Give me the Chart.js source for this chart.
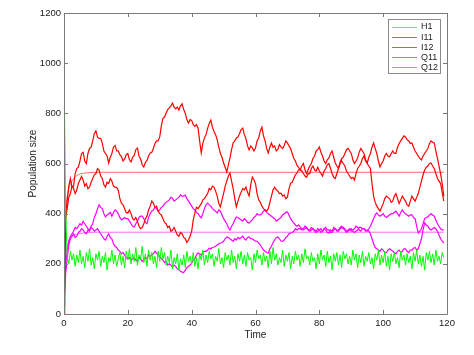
<!DOCTYPE html>
<html><head><meta charset="utf-8">
<script src="https://cdn.jsdelivr.net/npm/chart.js@4/dist/chart.umd.min.js"></script>
<style>html,body{margin:0;padding:0;background:#fff;overflow:hidden}</style>
</head><body>
<canvas id="c" width="474" height="355"></canvas>
<script>
const seriesNames = ['H1', 'I11', 'I12', 'Q11', 'Q12'];
const xTicks = [0, 20, 40, 60, 80, 100, 120];
const yTicks = [0, 200, 400, 600, 800, 1000, 1200];

// time grid: 0 .. 119 in steps of 0.5
const time = Array.from({length: 239}, (_, i) => i * 0.5);

const H1 = [
1000,420,230,200,250,215,240,190,235,205,
255,200,230,185,245,210,260,195,225,180,
240,215,250,190,230,205,245,175,225,210,
255,200,235,190,220,245,195,230,185,250,
215,260,200,240,210,265,195,235,220,270,
205,240,190,255,215,245,200,230,185,250,
210,265,220,245,195,230,205,255,180,225,
200,240,175,220,195,235,185,250,210,230,
200,245,190,225,180,240,215,255,195,235,
205,250,220,240,190,230,210,260,200,225,
185,245,215,235,195,255,205,230,180,240,
210,250,200,235,190,245,215,225,175,240,
205,255,220,235,195,245,210,230,185,250,
200,265,215,240,195,225,205,255,190,235,
210,245,180,230,200,250,215,235,190,240,
205,260,220,230,195,245,210,225,180,240,
200,255,215,235,190,250,205,230,175,240,
210,245,195,235,185,250,220,240,200,230,
195,255,215,240,185,235,205,250,190,230,
210,245,200,225,180,240,215,255,195,235,
205,250,190,230,175,240,210,245,200,225,
185,250,215,235,195,240,205,230,180,245,
210,255,200,235,190,230,175,245,215,250,
205,240,195,255,210,230,200,245,225
];

const I11 = [
0,400,450,510,540,505,510,560,580,585,610,640,645,610,600,640,660,665,690,720,
730,705,700,700,680,650,640,630,602,625,640,665,672,650,650,635,628,610,618,635,
640,615,606,625,632,655,662,630,618,595,586,605,612,630,642,645,660,680,690,690,
706,750,780,785,801,815,822,830,841,825,818,825,813,830,838,815,800,775,761,775,
772,755,748,755,741,690,642,680,702,715,740,760,773,745,728,715,694,665,640,625,
602,585,566,595,622,655,682,690,702,705,720,735,741,715,700,670,654,670,662,650,
662,690,702,730,745,710,690,660,642,665,682,665,670,650,656,675,666,660,672,690,
682,670,660,640,620,610,592,585,574,590,600,575,560,575,590,600,620,630,650,655,
666,645,630,610,600,615,622,640,650,625,602,590,580,605,620,625,640,655,660,650,
640,615,600,610,622,645,660,650,640,615,602,625,640,665,682,660,640,610,586,600,
610,630,640,630,626,640,650,640,640,665,680,690,700,710,706,695,690,680,682,665,
650,640,630,620,614,630,640,650,660,680,690,685,682,650,620,590,560,520,470
];

const I12 = [
0,380,420,465,480,510,500,480,494,520,534,548,534,510,520,500,506,525,540,555,
560,580,574,550,540,515,506,525,520,540,530,510,506,505,494,460,442,435,420,405,
403,415,400,380,375,385,370,350,340,345,360,380,390,415,430,450,442,425,430,410,
400,395,380,365,360,345,350,330,335,345,330,315,310,325,320,305,300,285,295,310,
330,375,403,425,420,430,440,455,460,470,480,500,495,510,506,490,470,440,427,455,
480,510,530,550,562,530,500,460,427,450,470,485,500,495,506,485,470,515,546,535,
520,480,455,445,430,420,415,410,420,445,470,495,506,495,490,480,482,470,475,460,
466,500,522,525,540,555,562,575,575,570,560,550,545,560,560,580,590,575,570,585,
570,560,550,570,580,595,600,580,560,545,540,560,580,600,610,600,590,570,560,550,
540,545,534,560,580,590,600,620,630,610,600,590,580,520,470,445,430,420,410,425,
440,460,470,465,460,445,450,470,480,460,440,455,470,460,450,435,430,450,470,460,
450,465,480,505,530,555,574,585,590,600,602,590,580,560,540,530,520,485,450
];

const Q11 = [
30,200,250,290,310,320,330,345,340,350,360,355,370,360,350,340,335,350,360,385,
400,420,435,425,420,400,387,395,400,405,390,405,415,410,400,385,375,380,385,380,
380,370,360,350,347,360,370,385,390,390,380,365,360,385,400,410,415,425,420,410,
415,425,430,440,445,450,455,465,462,450,455,460,465,475,470,470,474,460,450,440,
430,420,415,405,400,390,383,400,420,435,442,435,430,420,415,410,403,415,410,395,
380,370,360,345,335,350,360,375,387,385,380,375,370,380,375,365,363,370,375,385,
390,400,395,395,400,410,415,405,400,395,390,385,380,370,375,380,385,395,400,405,
407,395,380,370,363,355,350,355,347,340,340,350,345,335,335,345,340,335,330,340,
335,325,330,340,335,325,323,335,330,345,340,330,335,345,350,345,340,330,335,340,
330,335,340,350,345,335,330,340,340,330,335,330,320,300,280,265,260,255,250,260,
255,245,245,255,260,255,250,245,240,250,255,245,250,260,260,250,245,255,255,262,
265,255,260,280,300,335,363,355,350,340,335,340,345,340,330,315,300,290,283
];

const Q12 = [
30,160,220,275,300,310,320,305,310,325,330,340,335,325,320,335,330,345,340,330,
335,340,330,320,310,300,295,310,320,305,300,280,270,265,255,250,240,245,235,225,
220,225,215,220,225,215,210,225,220,210,215,225,220,235,230,235,240,250,243,235,
230,220,215,205,210,195,200,195,187,195,190,180,175,170,167,165,175,185,190,195,
203,215,220,235,243,240,235,245,250,250,255,262,260,265,267,270,275,280,283,285,
290,300,307,305,300,295,290,300,295,305,300,305,310,300,295,305,307,300,300,295,
290,290,283,275,265,255,250,245,243,260,270,285,295,305,307,300,290,290,295,305,
310,320,323,325,330,340,335,340,340,335,335,340,345,335,330,335,340,330,325,330,
335,340,330,340,345,335,335,325,325,335,340,335,330,340,345,340,335,325,330,335,
340,330,325,330,335,345,345,340,340,335,330,340,350,365,380,395,403,395,390,395,
400,390,385,390,395,400,400,405,410,400,390,405,415,405,400,395,390,395,395,385,
380,350,323,330,340,360,380,385,387,395,400,395,390,375,360,350,340,335,335
];

// deterministic (smooth) curves
const smoothTime = [0, 0.3, 0.6, 1, 1.5, 2, 3, 4, 5, 6, 8, 10, 119];
const I1det = [0, 300, 420, 470, 500, 520, 540, 552, 558, 561, 564, 565, 565];
const Q1det = [30, 150, 230, 270, 290, 302, 313, 318, 321, 323, 325, 326, 326];

const colors = ['#00ff00', '#ff0000', '#ff0000', '#ff00ff', '#ff00ff'];
const legendColors = ['#60e860', '#f05050', '#f05050', '#f050f0', '#f070f0'];

const pts = (xs, ys) => xs.map((x, i) => ({x: x, y: ys[i]}));

const FONT = '"Liberation Sans", Arial, Helvetica, sans-serif';

const datasets = [
  {label: seriesNames[0], data: pts(time, H1), borderColor: colors[0], borderWidth: 1},
  {label: seriesNames[1], data: pts(time, I11), borderColor: colors[1], borderWidth: 1.2},
  {label: seriesNames[2], data: pts(time, I12), borderColor: colors[2], borderWidth: 1.2},
  {label: seriesNames[3], data: pts(time, Q11), borderColor: colors[3], borderWidth: 1.2},
  {label: seriesNames[4], data: pts(time, Q12), borderColor: colors[4], borderWidth: 1.2},
  {label: 'I1 det', data: pts(smoothTime, I1det), borderColor: '#f04848', borderWidth: 0.8},
  {label: 'Q1 det', data: pts(smoothTime, Q1det), borderColor: '#f048f0', borderWidth: 0.8}
];
datasets.forEach(d => { d.pointRadius = 0; d.tension = 0; d.fill = false; });

const framePlugin = {
  id: 'frame',
  afterDatasetsDraw(chart) {
    const {ctx, chartArea: a, scales: {x, y}} = chart;
    ctx.save();
    ctx.strokeStyle = '#7a7a7a';
    ctx.lineWidth = 1;
    ctx.beginPath();
    ctx.rect(Math.round(a.left) + 0.5, Math.round(a.top) + 0.5, Math.round(a.right - a.left), Math.round(a.bottom - a.top));
    const tl = 4;
    xTicks.forEach(v => {
      const px = Math.round(x.getPixelForValue(v)) + 0.5;
      ctx.moveTo(px, a.bottom); ctx.lineTo(px, a.bottom - tl);
      ctx.moveTo(px, a.top); ctx.lineTo(px, a.top + tl);
    });
    yTicks.forEach(v => {
      const py = Math.round(y.getPixelForValue(v)) + 0.5;
      ctx.moveTo(a.left, py); ctx.lineTo(a.left + tl, py);
      ctx.moveTo(a.right, py); ctx.lineTo(a.right - tl, py);
    });
    ctx.stroke();

    // legend box
    const lx = 388, ly = 19, lw = 52, lh = 54;
    ctx.fillStyle = '#fff';
    ctx.fillRect(lx, ly, lw, lh);
    ctx.strokeStyle = '#8a8a8a';
    ctx.strokeRect(lx + 0.5, ly + 0.5, lw, lh);
    ctx.font = '9px ' + FONT;
    ctx.textBaseline = 'middle';
    ctx.textAlign = 'left';
    seriesNames.forEach((n, i) => {
      const yy = ly + 7.5 + i * 10.1;
      ctx.strokeStyle = legendColors[i];
      ctx.lineWidth = 1;
      ctx.beginPath();
      ctx.moveTo(392, Math.round(yy) + 0.5); ctx.lineTo(417, Math.round(yy) + 0.5);
      ctx.stroke();
      ctx.fillStyle = '#222';
      ctx.fillText(n, 421, yy + 0.5);
    });
    ctx.restore();
  }
};

new Chart(document.getElementById('c'), {
  type: 'line',
  data: {datasets},
  options: {
    responsive: false,
    devicePixelRatio: 1,
    animation: false,
    layout: {padding: {left: 27, right: 27, top: 13, bottom: 14}},
    plugins: {legend: {display: false}, tooltip: {enabled: false}},
    scales: {
      x: {
        type: 'linear', min: 0, max: 120,
        afterBuildTicks: s => { s.ticks = xTicks.map(v => ({value: v})); },
        ticks: {font: {size: 9.5, family: FONT}, color: '#222', padding: 4, maxRotation: 0, callback: v => String(v)},
        grid: {display: false, drawTicks: false},
        border: {display: false},
        title: {display: true, text: 'Time', font: {size: 10, family: FONT}, color: '#222', padding: 0},
        afterFit: s => { s.height = 27; }
      },
      y: {
        type: 'linear', min: 0, max: 1200,
        afterBuildTicks: s => { s.ticks = yTicks.map(v => ({value: v})); },
        ticks: {font: {size: 9.5, family: FONT}, color: '#222', padding: 3, callback: v => String(v)},
        grid: {display: false, drawTicks: false},
        border: {display: false},
        title: {display: true, text: 'Population size', font: {size: 10, family: FONT}, color: '#222', padding: 0},
        afterFit: s => { s.width = 37; }
      }
    }
  },
  plugins: [framePlugin]
});
</script>
</body></html>
